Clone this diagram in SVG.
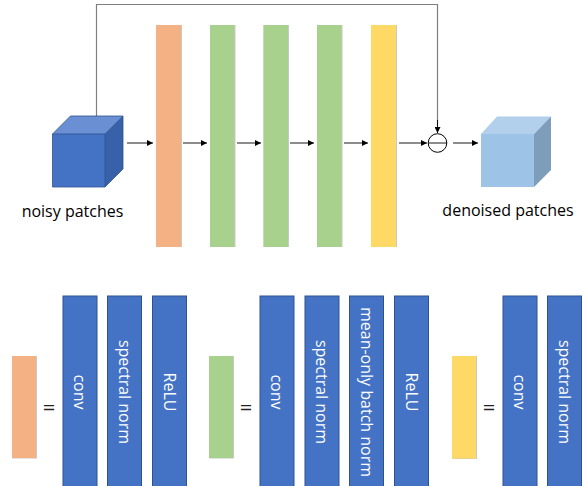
<svg xmlns="http://www.w3.org/2000/svg" width="587" height="486" viewBox="0 0 587 486">
  <defs>
    <marker id="arrow" viewBox="0 0 10 10" refX="10" refY="5" markerWidth="6" markerHeight="6" markerUnits="userSpaceOnUse" orient="auto">
      <path d="M0,0 L10,5 L0,10 z" fill="#000"/>
    </marker>
  </defs>
  <style>
    .label { font-family: "Open Sans", "Noto Sans", sans-serif; font-size: 16px; fill: #000; }
    .vlabel { font-family: "Open Sans", "Noto Sans", sans-serif; font-size: 16px; fill: #fff; text-anchor: middle; dominant-baseline: central; }
    .eq { font-family: "Open Sans", "Noto Sans", sans-serif; font-size: 22px; fill: #222; text-anchor: middle; }
    .orange { fill: #F4B183; }
    .green { fill: #A9D18E; }
    .yellow { fill: #FFD966; }
    .shade { fill: #C8C8C8; }
    .blue { fill: #4472C4; stroke: #2F528F; stroke-width: 1; }
    .wire { fill: none; stroke: #000; stroke-width: 0.9; }
    .skip { fill: none; stroke: #7F7F7F; stroke-width: 1.2; }
  </style>

  <!-- connectors -->
  <g id="connectors">
    <polyline class="skip" points="96.5,116 96.5,4.5 437.5,4.5 437.5,126"/>
    <line class="wire" x1="437.5" y1="120" x2="437.5" y2="133" marker-end="url(#arrow)"/>
    <line class="wire" x1="127" y1="143" x2="153" y2="143" marker-end="url(#arrow)"/>
    <line class="wire" x1="183" y1="143" x2="207" y2="143" marker-end="url(#arrow)"/>
    <line class="wire" x1="237" y1="143" x2="261" y2="143" marker-end="url(#arrow)"/>
    <line class="wire" x1="290" y1="143" x2="314" y2="143" marker-end="url(#arrow)"/>
    <line class="wire" x1="344" y1="143" x2="368" y2="143" marker-end="url(#arrow)"/>
    <line class="wire" x1="399" y1="143" x2="427" y2="143" marker-end="url(#arrow)"/>
    <line class="wire" x1="453" y1="143" x2="478" y2="143" marker-end="url(#arrow)"/>
  </g>

  <!-- input volume -->
  <g id="noisy-patches">
    <polygon points="52.5,134 70.5,116 123,116 105,134" fill="#6A8FD2"/>
    <polygon points="105,134 123,116 123,169 105,187" fill="#3761A8"/>
    <rect x="52.5" y="134" width="52.5" height="53" fill="#4472C4"/>
    <path d="M52.5,134 L70.5,116 L123,116 L123,169 L105,187 L52.5,187 Z M52.5,134 L105,134 L105,187 M105,134 L123,116" fill="none" stroke="#2F528F" stroke-width="0.8"/>
    <text class="label" x="72.5" y="216.5" text-anchor="middle">noisy patches</text>
  </g>

  <!-- network layers -->
  <g id="layer-1">
    <rect class="shade" x="156" y="25" width="26" height="222"/>
    <rect class="orange" x="156" y="25" width="25" height="222"/>
  </g>
  <g id="layer-2">
    <rect class="shade" x="210" y="25" width="25.5" height="222"/>
    <rect class="green" x="210" y="25" width="24.5" height="222"/>
  </g>
  <g id="layer-3">
    <rect class="shade" x="263.5" y="25" width="25.5" height="222"/>
    <rect class="green" x="263.5" y="25" width="24.5" height="222"/>
  </g>
  <g id="layer-4">
    <rect class="shade" x="317" y="25" width="25.5" height="222"/>
    <rect class="green" x="317" y="25" width="24.5" height="222"/>
  </g>
  <g id="layer-5">
    <rect class="shade" x="371" y="25" width="26" height="222"/>
    <rect class="yellow" x="371" y="25" width="25" height="222"/>
  </g>

  <!-- subtraction node -->
  <g id="subtract">
    <circle cx="437.5" cy="143" r="9.3" fill="#fff" stroke="#000" stroke-width="1"/>
    <line x1="428.2" y1="143" x2="446.8" y2="143" stroke="#000" stroke-width="0.9"/>
  </g>

  <!-- output volume -->
  <g id="denoised-patches">
    <polygon points="481,134 497,116.5 551,116.5 534,134" fill="#B2D0EC"/>
    <polygon points="534,134 551,116.5 551,170 534,187" fill="#7E9DBA"/>
    <rect x="481" y="134" width="53" height="53" fill="#9DC3E6"/>
    <text class="label" x="508" y="215.5" text-anchor="middle">denoised patches</text>
  </g>

  <!-- legend: first layer -->
  <g id="legend-first">
    <rect class="shade" x="12" y="356" width="25" height="102.5"/>
    <rect class="orange" x="12" y="356" width="24" height="102"/>
    <text class="eq" x="49" y="415">=</text>
  </g>
  <g id="first-conv">
    <rect class="blue" x="63" y="296" width="34" height="196"/>
    <text class="vlabel" transform="translate(80,392) rotate(90)">conv</text>
  </g>
  <g id="first-spectral-norm">
    <rect class="blue" x="107.5" y="296" width="34" height="196"/>
    <text class="vlabel" transform="translate(124.5,392) rotate(90)">spectral norm</text>
  </g>
  <g id="first-relu">
    <rect class="blue" x="152.5" y="296" width="34" height="196"/>
    <text class="vlabel" transform="translate(169.5,392) rotate(90)">ReLU</text>
  </g>

  <!-- legend: middle layers -->
  <g id="legend-middle">
    <rect class="shade" x="209" y="356" width="25" height="102.5"/>
    <rect class="green" x="209" y="356" width="24" height="102"/>
    <text class="eq" x="246" y="415">=</text>
  </g>
  <g id="middle-conv">
    <rect class="blue" x="260" y="296" width="34" height="196"/>
    <text class="vlabel" transform="translate(277,392) rotate(90)">conv</text>
  </g>
  <g id="middle-spectral-norm">
    <rect class="blue" x="305" y="296" width="34" height="196"/>
    <text class="vlabel" transform="translate(322,392) rotate(90)">spectral norm</text>
  </g>
  <g id="middle-batch-norm">
    <rect class="blue" x="349.5" y="296" width="34" height="196"/>
    <text class="vlabel" transform="translate(366.5,392) rotate(90)">mean-only batch norm</text>
  </g>
  <g id="middle-relu">
    <rect class="blue" x="394.5" y="296" width="34" height="196"/>
    <text class="vlabel" transform="translate(411.5,392) rotate(90)">ReLU</text>
  </g>

  <!-- legend: last layer -->
  <g id="legend-last">
    <rect class="shade" x="452" y="356" width="25" height="103"/>
    <rect class="yellow" x="452" y="356" width="24" height="102.5"/>
    <text class="eq" x="489" y="415">=</text>
  </g>
  <g id="last-conv">
    <rect class="blue" x="503" y="296" width="34" height="196"/>
    <text class="vlabel" transform="translate(520,392) rotate(90)">conv</text>
  </g>
  <g id="last-spectral-norm">
    <rect class="blue" x="547.5" y="296" width="34" height="196"/>
    <text class="vlabel" transform="translate(564.5,392) rotate(90)">spectral norm</text>
  </g>
</svg>
